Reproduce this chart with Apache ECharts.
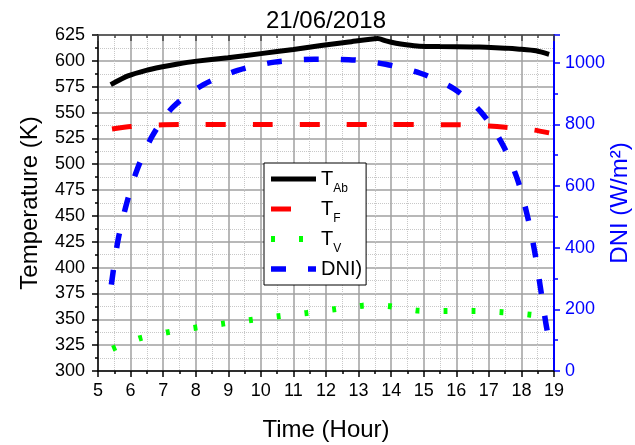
<!DOCTYPE html>
<html><head><meta charset="utf-8">
<script src="https://cdn.jsdelivr.net/npm/echarts@6/dist/echarts.min.js"></script>
<style>html,body{margin:0;padding:0;background:#fff}#c{width:635px;height:445px}</style>
</head><body><div id="c"></div>
<script>
const chartTitle = '21/06/2018';
const xName = 'Time (Hour)';
const yLeftName = 'Temperature (K)';
const yRightName = 'DNI (W/m\u00b2)';
const seriesNames = ['TAb', 'TF', 'TV', 'DNI)'];

const tAbHours = [5.39, 5.92, 6.48, 6.94, 7.45, 7.97, 8.99, 10.0, 11.0, 11.85, 12.7, 13.59, 13.84, 14.15, 14.46, 14.87, 15.5, 16.5, 16.91, 17.5, 17.94, 18.45, 18.85];
const tAbTemps = [577, 585.4, 590.8, 594, 597, 599.5, 603, 607, 611, 614.8, 618.2, 621.7, 619.3, 617, 615.5, 614.2, 613.8, 613.5, 613.2, 612.3, 611.3, 609.7, 606.3];

const tFHours = [5.43, 6.0, 6.5, 7.0, 8.0, 10.0, 12.0, 14.0, 16.0, 16.5, 17.0, 17.5, 18.0, 18.4, 18.85];
const tFTemps = [534, 536.5, 537.5, 538.2, 538.5, 538.5, 538.5, 538.4, 538.2, 537.8, 537, 535.8, 534.3, 533, 530.3];

const tVHours = [5.44, 6.27, 7.12, 7.98, 8.84, 9.69, 10.54, 11.41, 12.26, 13.13, 13.6, 13.97, 14.83, 15.68, 16.54, 17.42, 18.27, 18.9];
const tVTemps = [321.6, 331.6, 337.4, 341.9, 345.8, 349.4, 352.9, 356.1, 359.7, 363.2, 363.5, 362.6, 358.4, 358.1, 358.1, 356.8, 354.5, 352];

const dniHours = [5.41, 5.61, 5.87, 6.2, 6.66, 7.3, 8.24, 9.29, 10.42, 11.65, 12.7, 13.83, 14.9, 15.92, 16.76, 17.42, 17.87, 18.17, 18.4, 18.58, 18.75, 18.82];
const dniValues = [280, 422, 540, 653, 761, 856, 929, 975, 1002, 1011, 1010, 995, 966, 916, 840, 735, 624, 509, 392, 273, 155, 115];

const zip = (a, b) => a.map((v, i) => [v, b[i]]);
const FF = '"Liberation Sans", Arial, sans-serif';

const chart = echarts.init(document.getElementById('c'), null, {renderer: 'canvas'});

const baseX = {
  type: 'value', min: 5, max: 19, interval: 1,
  axisLine: {show: true, onZero: false, lineStyle: {color: '#000', width: 1.5}},
  axisTick: {show: true, length: 6, lineStyle: {color: '#000', width: 1.5}},
  minorTick: {show: true, splitNumber: 2, length: 3, lineStyle: {color: '#000', width: 1.5}},
};

chart.setOption({
  animation: false,
  backgroundColor: '#fff',
  title: {
    text: chartTitle, left: 321, top: 4, textAlign: 'center',
    textStyle: {fontSize: 24, fontWeight: 'normal', color: '#000', fontFamily: FF}
  },
  grid: {left: 98, right: 81, top: 35, bottom: 74, containLabel: false, outerBoundsMode: 'none'},
  legend: {
    orient: 'vertical', left: 264, top: 163,
    padding: [0, 4, 0, 4],
    itemWidth: 45, itemHeight: 14, itemGap: -2,
    backgroundColor: '#fff', borderColor: '#000', borderWidth: 1, borderRadius: 0,
    data: seriesNames,
    lineStyle: {width: 'inherit', type: 'inherit'},
    itemStyle: {opacity: 0, borderWidth: 0},
    formatter: function (n) {
      if (n === 'TAb') return '{m|T}{s|Ab}';
      if (n === 'TF') return '{m|T}{s|F}';
      if (n === 'TV') return '{m|T}{s|V}';
      return '{m|' + n + '}';
    },
    textStyle: {
      fontSize: 20, color: '#000', fontFamily: FF, lineHeight: 32,
      rich: {
        m: {fontSize: 20, lineHeight: 32, fontFamily: FF, color: '#000'},
        s: {fontSize: 12, lineHeight: 12, verticalAlign: 'bottom', fontFamily: FF, color: '#000'}
      }
    }
  },
  xAxis: [
    Object.assign({}, baseX, {
      position: 'bottom',
      name: xName, nameLocation: 'middle', nameGap: 47, nameMoveOverlap: false,
      nameTextStyle: {fontSize: 24, color: '#000', fontFamily: FF},
      axisLabel: {fontSize: 18, color: '#000', margin: 11, fontFamily: FF},
      splitLine: {show: true, lineStyle: {color: '#a0a0a0', width: 1.5}},
      minorSplitLine: {show: true, lineStyle: {color: '#c8c8c8', type: 'dotted', width: 1}}
    }),
    Object.assign({}, baseX, {
      position: 'top',
      axisLine: {show: true, onZero: false, lineStyle: {color: '#444', width: 1.5}},
      axisTick: {show: true, inside: true, length: 6, lineStyle: {color: '#444', width: 1.5}},
      minorTick: {show: true, splitNumber: 2, length: 3, lineStyle: {color: '#444', width: 1.5}},
      axisLabel: {show: false},
      splitLine: {show: false}
    })
  ],
  yAxis: [
    {
      type: 'value', position: 'left', min: 300, max: 625, interval: 25,
      name: yLeftName, nameLocation: 'middle', nameGap: 56, nameMoveOverlap: false,
      nameTextStyle: {fontSize: 24, color: '#000', fontFamily: FF},
      axisLine: {show: true, onZero: false, lineStyle: {color: '#000', width: 1.5}},
      axisTick: {show: true, length: 6, lineStyle: {color: '#000', width: 1.5}},
      minorTick: {show: true, splitNumber: 2, length: 3, lineStyle: {color: '#000', width: 1.5}},
      axisLabel: {fontSize: 18, color: '#000', margin: 13, fontFamily: FF},
      splitLine: {show: true, lineStyle: {color: '#a0a0a0', width: 1.5}},
      minorSplitLine: {show: true, lineStyle: {color: '#c8c8c8', type: 'dotted', width: 1}}
    },
    {
      type: 'value', position: 'right', min: 0, max: 1090, interval: 200,
      name: yRightName, nameLocation: 'middle', nameGap: 54, nameMoveOverlap: false,
      nameTextStyle: {fontSize: 24, color: '#0000ff', fontFamily: FF},
      axisLine: {show: true, onZero: false, lineStyle: {color: '#0000ff', width: 2}},
      axisTick: {show: true, length: 6, lineStyle: {color: '#0000ff', width: 1.5}},
      minorTick: {show: true, splitNumber: 2, length: 4, lineStyle: {color: '#0000ff', width: 1.5}},
      axisLabel: {fontSize: 18, color: '#0000ff', margin: 11, fontFamily: FF,
        formatter: v => (v % 200 === 0 ? String(v) : '')},
      splitLine: {show: false}
    }
  ],
  series: [
    {name: 'TAb', type: 'line', xAxisIndex: 0, yAxisIndex: 0, data: zip(tAbHours, tAbTemps),
     symbol: 'none', smooth: 0.2, color: '#000', lineStyle: {color: '#000', width: 5}, z: 3},
    {name: 'TF', type: 'line', xAxisIndex: 0, yAxisIndex: 0, data: zip(tFHours, tFTemps),
     symbol: 'none', smooth: 0.2, color: '#ff0000', lineStyle: {color: '#ff0000', width: 5, type: [20, 27]}, z: 3},
    {name: 'TV', type: 'line', xAxisIndex: 0, yAxisIndex: 0, data: zip(tVHours, tVTemps),
     symbol: 'none', smooth: 0.2, color: '#00ff00', lineStyle: {color: '#00ff00', width: 6, type: [4, 24]}, z: 3},
    {name: 'DNI)', type: 'line', xAxisIndex: 0, yAxisIndex: 1, data: zip(dniHours, dniValues),
     symbol: 'none', smooth: 0.3, color: '#0000ff', lineStyle: {color: '#0000ff', width: 5.5, type: [15, 22]}, z: 4}
  ]
});
</script>
</body></html>
